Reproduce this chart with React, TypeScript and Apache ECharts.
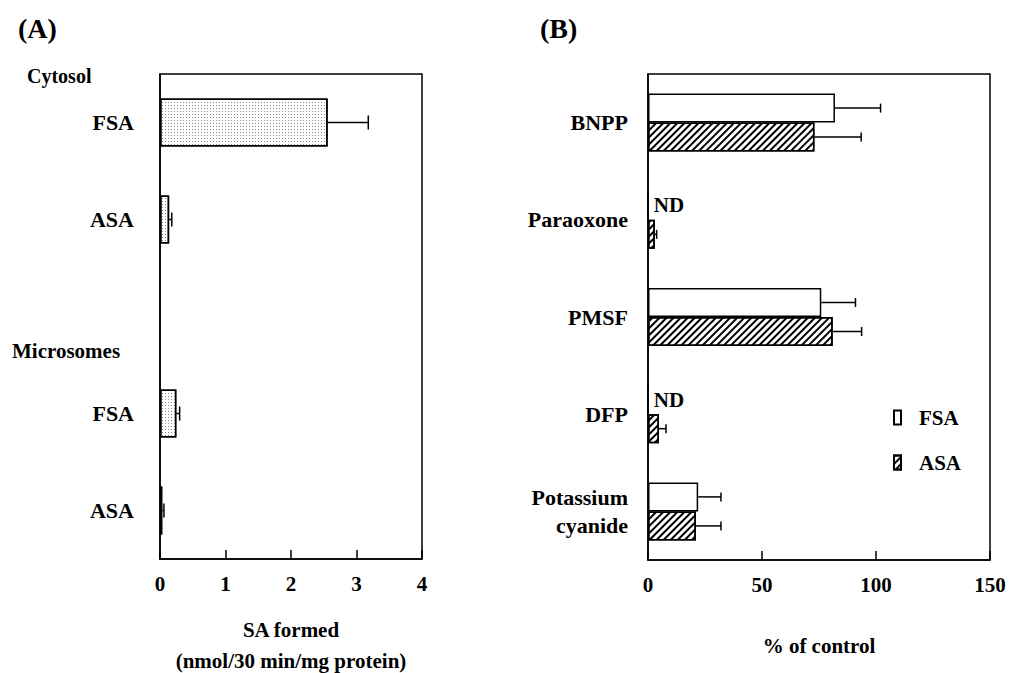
import React, { useEffect, useRef } from "react";
import * as echarts from "echarts";

// Panel A
const catsA = ["FSA", "ASA", "", "FSA", "ASA"];
const valuesA: (number | null)[] = [2.56, 0.14, null, 0.25, 0.035];
const errorsA: (number | null)[] = [0.62, 0.04, null, 0.05, 0.025];
const groupLabelsA = ["Cytosol", "Microsomes"];

// Panel B
const catsB = ["BNPP", "Paraoxone", "PMSF", "DFP", "Potassium\ncyanide"];
const fsaB = [82, 0, 76, 0, 22];
const fsaErrB: (number | null)[] = [20, null, 15, null, 10];
const asaB = [73, 3, 81, 4.8, 21];
const asaErrB = [20.5, 0.8, 12.7, 3.1, 11];
const ndB = [false, true, false, true, false];

const FONT = "Liberation Serif";

const stipple = {
  symbol: "rect",
  symbolSize: 1,
  dashArrayX: [1, 2],
  dashArrayY: [1, 2],
  color: "#8a8a8a",
  rotation: 0,
};
const hatch = {
  symbol: "rect",
  symbolSize: 1,
  dashArrayX: [1, 0],
  dashArrayY: [2, 3],
  color: "#000",
  rotation: -Math.PI / 4,
};

function errRender(offset: number, cap: number) {
  return (params: any, api: any) => {
    const v = api.value(0);
    const i = api.value(1);
    const e = api.value(2);
    const p0 = api.coord([v, i]);
    const p1 = api.coord([v + e, i]);
    const y = p0[1] + offset;
    return {
      type: "group",
      children: [
        { type: "line", shape: { x1: p0[0], y1: y, x2: p1[0], y2: y }, style: { stroke: "#000", lineWidth: 1.5 } },
        { type: "line", shape: { x1: p1[0], y1: y - cap, x2: p1[0], y2: y + cap }, style: { stroke: "#000", lineWidth: 1.5 } },
      ],
    };
  };
}

export default function App() {
  const ref = useRef<HTMLDivElement>(null);
  useEffect(() => {
    document.body.style.margin = "0";
    const chart = echarts.init(ref.current!, null, { renderer: "svg" });
    const textBase = { fontFamily: FONT, fontWeight: "bold" as const, color: "#000" };

    const errA = valuesA
      .map((v, i) => (v == null || errorsA[i] == null ? null : [v, i, errorsA[i]]))
      .filter((d) => d != null);
    const errFsaB = fsaB
      .map((v, i) => (fsaErrB[i] == null ? null : [v, i, fsaErrB[i]]))
      .filter((d) => d != null);
    const errAsaB = asaB.map((v, i) => [v, i, asaErrB[i]]);

    chart.setOption({
      animation: false,
      textStyle: { fontFamily: FONT },
      grid: [
        { left: 160, top: 74, width: 262, height: 485, show: true, borderColor: "#000", borderWidth: 1.5, containLabel: false, outerBoundsMode: "none" },
        { left: 648, top: 74, width: 342, height: 486, show: true, borderColor: "#000", borderWidth: 1.5, containLabel: false, outerBoundsMode: "none" },
      ],
      xAxis: [
        {
          gridIndex: 0, type: "value", min: 0, max: 4, interval: 1,
          splitLine: { show: false },
          axisLine: { show: true, lineStyle: { color: "#000", width: 1.5 } },
          axisTick: { show: true, inside: true, length: 9, lineStyle: { color: "#000", width: 1.5 } },
          axisLabel: { ...textBase, fontSize: 21, margin: 14 },
          name: "SA formed\n(nmol/30 min/mg protein)",
          nameLocation: "middle", nameGap: 55,
          nameTextStyle: { ...textBase, fontSize: 21, lineHeight: 31 },
        },
        {
          gridIndex: 1, type: "value", min: 0, max: 150, interval: 50,
          splitLine: { show: false },
          axisLine: { show: true, lineStyle: { color: "#000", width: 1.5 } },
          axisTick: { show: true, inside: true, length: 9, lineStyle: { color: "#000", width: 1.5 } },
          axisLabel: { ...textBase, fontSize: 21, margin: 14 },
          name: "% of control",
          nameLocation: "middle", nameGap: 75,
          nameTextStyle: { ...textBase, fontSize: 21, lineHeight: 22 },
        },
      ],
      yAxis: [
        {
          gridIndex: 0, type: "category", data: catsA, inverse: true,
          axisLine: { show: true, lineStyle: { color: "#000", width: 1.5 } },
          axisTick: { show: false },
          axisLabel: { ...textBase, fontSize: 22, margin: 26 },
        },
        {
          gridIndex: 1, type: "category", data: catsB, inverse: true,
          axisLine: { show: true, lineStyle: { color: "#000", width: 1.5 } },
          axisTick: { show: false },
          axisLabel: { ...textBase, fontSize: 22, margin: 20, lineHeight: 28 },
        },
      ],
      legend: {
        left: 888, top: 402, orient: "vertical", icon: "rect",
        itemWidth: 7, itemHeight: 14, itemGap: 24,
        data: ["FSA", "ASA"],
        textStyle: { ...textBase, fontSize: 21, padding: [0, 0, 0, 13] },
      },
      graphic: [
        { type: "text", left: 18, top: 14, style: { text: "(A)", fill: "#000", font: `bold 28px ${FONT}` } },
        { type: "text", left: 540, top: 14, style: { text: "(B)", fill: "#000", font: `bold 28px ${FONT}` } },
        { type: "text", left: 27, top: 66, style: { text: groupLabelsA[0], fill: "#000", font: `bold 20px ${FONT}` } },
        { type: "text", left: 12, top: 340, style: { text: groupLabelsA[1], fill: "#000", font: `bold 21px ${FONT}` } },
      ],
      series: [
        {
          name: "A", type: "bar", xAxisIndex: 0, yAxisIndex: 0, barWidth: 48,
          data: valuesA,
          itemStyle: { color: "#fff", borderColor: "#000", borderWidth: 1.5, decal: stipple },
        },
        {
          name: "Aerr", type: "custom", xAxisIndex: 0, yAxisIndex: 0,
          renderItem: errRender(0, 7), data: errA, encode: { x: 0, y: 1 }, z: 5,
        },
        {
          name: "FSA", type: "bar", xAxisIndex: 1, yAxisIndex: 1, barWidth: 29, barGap: "0%",
          data: fsaB.map((v, i) =>
            ndB[i]
              ? { value: v, label: { show: true, position: "right", distance: 5, formatter: "ND", ...textBase, fontSize: 21 } }
              : v
          ),
          itemStyle: { color: "#fff", borderColor: "#000", borderWidth: 1.5 },
        },
        {
          name: "ASA", type: "bar", xAxisIndex: 1, yAxisIndex: 1, barWidth: 29, barGap: "0%",
          data: asaB,
          itemStyle: { color: "#fff", borderColor: "#000", borderWidth: 1.5, decal: hatch },
        },
        {
          name: "FSAerr", type: "custom", xAxisIndex: 1, yAxisIndex: 1,
          renderItem: errRender(-14.5, 4.5), data: errFsaB, encode: { x: 0, y: 1 }, z: 5,
        },
        {
          name: "ASAerr", type: "custom", xAxisIndex: 1, yAxisIndex: 1,
          renderItem: errRender(14.5, 4.5), data: errAsaB, encode: { x: 0, y: 1 }, z: 5,
        },
      ],
    });
    return () => chart.dispose();
  }, []);
  return <div ref={ref} style={{ width: 1013, height: 673 }} />;
}
